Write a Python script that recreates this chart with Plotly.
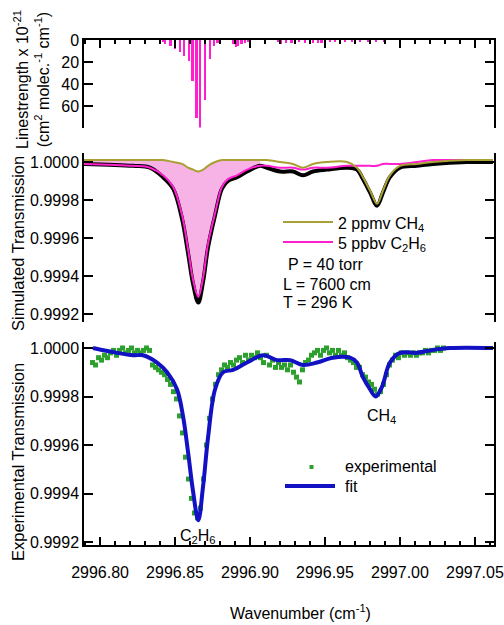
import plotly.graph_objects as go

W, H = 504, 625
FONT = "Liberation Sans, Arial, Helvetica, sans-serif"

# ---------------- data ----------------
# Top panel: line strengths (x 10^-21 cm^2 molec^-1 cm^-1)
stick_wn = [2996.8420, 2996.8433, 2996.8471, 2996.8500, 2996.8533, 2996.8562, 2996.8595,
            2996.8618, 2996.8645, 2996.8667, 2996.8700, 2996.8733, 2996.8762, 2996.8785,
            2996.8887, 2996.8907, 2996.8922, 2996.8945, 2996.8967, 2996.8987,
            2996.9187, 2996.9211, 2996.9240, 2996.9278, 2996.9327, 2996.9367, 2996.9420,
            2996.9453, 2996.9478, 2996.9533, 2996.9567, 2996.9633, 2996.9680, 2996.9733,
            2996.9787, 2996.9840, 2996.9893]
stick_s = [2, 4, 5, 8, 10.5, 14, 19,
           37, 70, 79, 54, 17, 5.5, 3,
           4, 6, 5, 4, 3, 2,
           2, 3.5, 2.5, 3, 2, 3, 3,
           2.5, 3, 2, 2, 1.5, 1.5, 1,
           1, 1, 1]

# Middle panel: simulated transmission
sim_wn = [2996.7887, 2996.8220, 2996.8333, 2996.8420, 2996.8487, 2996.8547, 2996.8587,
          2996.8620, 2996.8655, 2996.8687, 2996.8720, 2996.8767, 2996.8813, 2996.8853,
          2996.8913, 2996.8980, 2996.9067, 2996.9113, 2996.9200, 2996.9287, 2996.9353,
          2996.9420, 2996.9513, 2996.9647, 2996.9713, 2996.9753, 2996.9800, 2996.9847,
          2996.9887, 2996.9933, 2997.0000, 2997.0113, 2997.0220, 2997.0447, 2997.0620]
sim_total = [0.99999, 0.99998, 0.99997, 0.99992, 0.99986, 0.99970, 0.99952,
             0.99936, 0.99926, 0.99937, 0.99955, 0.99972, 0.99986, 0.99990,
             0.99992, 0.99995, 0.99998, 0.99997, 0.99995, 0.99995, 0.99993,
             0.99995, 0.99996, 0.99997, 0.99996, 0.99991, 0.99984, 0.99977,
             0.99984, 0.99992, 0.99997, 0.99998, 0.99999, 1.00000, 1.00000]
sim_c2h6 = [0.99999, 0.99998, 0.99997, 0.99993, 0.99987, 0.99972, 0.99954,
            0.99938, 0.99929, 0.99939, 0.99957, 0.99973, 0.99987, 0.99991,
            0.99993, 0.99996, 0.99998, 0.99998, 0.99997, 0.99997, 0.99996,
            0.99997, 0.99997, 0.99998, 0.99998, 0.99998, 0.99998, 0.99998,
            0.99999, 0.99999, 0.99999, 1.00000, 1.00001, 1.00001, 1.00001]
sim_ch4 = [1.00001, 1.00001, 1.00001, 1.00001, 1.00000, 0.99999, 0.99997,
           0.99996, 0.99995, 0.99996, 0.99998, 1.00000, 1.00001, 1.00001,
           1.00001, 1.00001, 1.00001, 1.00001, 1.00000, 0.99999, 0.99997,
           0.99999, 1.00000, 1.00000, 0.99997, 0.99992, 0.99985, 0.99978,
           0.99985, 0.99993, 0.99998, 0.99999, 1.00000, 1.00001, 1.00001]
fill_end = 17  # shaded C2H6 band covers the first points

# Bottom panel: experimental data and fit
exp_wn = [2996.795, 2996.797, 2996.799, 2996.801, 2996.803, 2996.805, 2996.807, 2996.809,
          2996.811, 2996.813, 2996.815, 2996.817, 2996.819, 2996.821, 2996.823, 2996.825,
          2996.827, 2996.829, 2996.831, 2996.833, 2996.835, 2996.837, 2996.839, 2996.841,
          2996.843, 2996.845, 2996.847, 2996.849, 2996.851, 2996.853, 2996.855, 2996.857,
          2996.859, 2996.861, 2996.863, 2996.865, 2996.867, 2996.869, 2996.871, 2996.873,
          2996.875, 2996.877, 2996.879, 2996.881, 2996.883, 2996.885, 2996.887, 2996.889,
          2996.891, 2996.893, 2996.895, 2996.897, 2996.899, 2996.901, 2996.903, 2996.905,
          2996.907, 2996.909, 2996.911, 2996.913, 2996.915, 2996.917, 2996.919, 2996.921,
          2996.923, 2996.925, 2996.927, 2996.929, 2996.931, 2996.933, 2996.935, 2996.937,
          2996.939, 2996.941, 2996.943, 2996.945, 2996.947, 2996.949, 2996.951, 2996.953,
          2996.955, 2996.957, 2996.959, 2996.961, 2996.963, 2996.965, 2996.967, 2996.969,
          2996.971, 2996.973, 2996.975, 2996.977, 2996.979, 2996.981, 2996.983, 2996.985,
          2996.987, 2996.989, 2996.991, 2996.993, 2996.995, 2996.997, 2996.999, 2997.001,
          2997.003, 2997.005, 2997.007, 2997.009, 2997.011, 2997.013, 2997.015, 2997.017,
          2997.019, 2997.021, 2997.023, 2997.025, 2997.027, 2997.029]
exp_t = [0.99994, 0.99993, 0.99996, 0.99995, 0.99997, 0.99996, 0.99998, 0.99999,
         0.99997, 0.99999, 1.00000, 0.99998, 0.99999, 1.00000, 0.99998, 0.99999,
         0.99998, 0.99999, 1.00000, 0.99999, 0.99993, 0.99992, 0.99991, 0.99990,
         0.99989, 0.99987, 0.99985, 0.99982, 0.99979, 0.99972, 0.99965, 0.99955,
         0.99946, 0.99938, 0.99932, 0.99930, 0.99934, 0.99946, 0.99960, 0.99971,
         0.99979, 0.99985, 0.99989, 0.99991, 0.99993, 0.99992, 0.99994, 0.99993,
         0.99995, 0.99996, 0.99994, 0.99997, 0.99995, 0.99997, 0.99996, 0.99998,
         0.99996, 0.99994, 0.99997, 0.99993, 0.99995, 0.99992, 0.99994, 0.99992,
         0.99993, 0.99991, 0.99993, 0.99990, 0.99988, 0.99986, 0.99991, 0.99994,
         0.99995, 0.99997, 0.99998, 0.99999, 0.99997, 0.99999, 1.00000, 0.99998,
         0.99999, 0.99997, 0.99999, 0.99997, 0.99998, 0.99996, 0.99995, 0.99994,
         0.99992, 0.99992, 0.99989, 0.99988, 0.99986, 0.99985, 0.99983, 0.99981,
         0.99982, 0.99985, 0.99989, 0.99993, 0.99995, 0.99997, 0.99996, 0.99998,
         0.99997, 0.99998, 0.99997, 0.99998, 0.99997, 0.99998, 0.99998, 0.99999,
         0.99998, 0.99999, 0.99999, 1.00000, 0.99999, 1.00000]

fit_wn = [2996.7953, 2996.8113, 2996.8220, 2996.8287, 2996.8380, 2996.8447, 2996.8513,
          2996.8553, 2996.8587, 2996.8620, 2996.8655, 2996.8687, 2996.8720, 2996.8767,
          2996.8820, 2996.8887, 2996.8980, 2996.9087, 2996.9180, 2996.9267, 2996.9353,
          2996.9447, 2996.9553, 2996.9667, 2996.9713, 2996.9753, 2996.9800, 2996.9838,
          2996.9880, 2996.9933, 2997.0000, 2997.0113, 2997.0200, 2997.0333, 2997.0620]
fit_t = [1.00000, 0.99998, 0.99997, 0.99997, 0.99994, 0.99990, 0.99983,
         0.99972, 0.99957, 0.99941, 0.99929, 0.99943, 0.99963, 0.99983,
         0.99990, 0.99991, 0.99994, 0.99997, 0.99995, 0.99995, 0.99993,
         0.99994, 0.99996, 0.99996, 0.99994, 0.99988, 0.99983, 0.99980,
         0.99984, 0.99994, 0.99998, 0.99998, 0.99999, 1.00000, 1.00000]

# ---------------- styles ----------------
MAGENTA = "#ff1fcf"
OLIVE = "#a8a032"
PINK = "rgba(247,178,230,1)"
GREEN = "#2ca02c"
BLUE = "#1212c4"

def px(x):
    return x / W

def py(y):
    return 1 - y / H

XDOM = [px(84), px(494)]
XR = [2996.7893, 2997.0627]

fig = go.Figure()

# top panel sticks
fig.add_trace(go.Bar(x=stick_wn, y=stick_s, width=0.0011, marker_color=MAGENTA,
                     marker_line_width=0, xaxis="x", yaxis="y", showlegend=False))

# middle panel
fig.add_trace(go.Scatter(x=sim_wn[:fill_end], y=sim_ch4[:fill_end], mode="lines",
                         line=dict(width=0, shape="spline"), xaxis="x2", yaxis="y2",
                         showlegend=False, hoverinfo="skip"))
fig.add_trace(go.Scatter(x=sim_wn[:fill_end], y=sim_c2h6[:fill_end], mode="lines",
                         line=dict(width=0, shape="spline"), fill="tonexty", fillcolor=PINK,
                         xaxis="x2", yaxis="y2", showlegend=False, hoverinfo="skip"))
fig.add_trace(go.Scatter(x=sim_wn, y=sim_total, mode="lines",
                         line=dict(color="black", width=4, shape="spline"),
                         xaxis="x2", yaxis="y2", showlegend=False))
fig.add_trace(go.Scatter(x=sim_wn, y=sim_c2h6, mode="lines",
                         line=dict(color=MAGENTA, width=2, shape="spline"),
                         xaxis="x2", yaxis="y2", showlegend=False))
fig.add_trace(go.Scatter(x=sim_wn, y=sim_ch4, mode="lines",
                         line=dict(color=OLIVE, width=2, shape="spline"),
                         xaxis="x2", yaxis="y2", showlegend=False))

# bottom panel
fig.add_trace(go.Scatter(x=exp_wn, y=exp_t, mode="markers",
                         marker=dict(color=GREEN, size=5, symbol="square", line_width=0),
                         xaxis="x3", yaxis="y3", showlegend=False))
fig.add_trace(go.Scatter(x=fit_wn, y=fit_t, mode="lines",
                         line=dict(color=BLUE, width=4, shape="spline"),
                         xaxis="x3", yaxis="y3", showlegend=False))

axis_common = dict(showline=True, linecolor="black", linewidth=1.5, ticks="inside",
                   tickcolor="black", tickwidth=1.5, showgrid=False, zeroline=False,
                   automargin=False,
                   tickfont=dict(size=16, family=FONT, color="black"))
minor = dict(ticks="inside", ticklen=4, tickcolor="black", tickwidth=1.5, dtick=0.01,
             tick0=2996.80, showgrid=False)

fig.update_layout(
    width=W, height=H, autosize=False,
    margin=dict(l=0, r=0, t=0, b=0),
    paper_bgcolor="white", plot_bgcolor="white",
    font=dict(family=FONT, size=16, color="black"),
    bargap=0,
    xaxis=dict(**axis_common, domain=XDOM, range=XR, anchor="y", side="top",
               showticklabels=False, ticklen=8, dtick=0.05, tick0=2996.80, minor=minor),
    yaxis=dict(**axis_common, domain=[py(127.5), py(40)], range=[79, 0], anchor="x",
               tickvals=[0, 20, 40, 60], ticklen=9, mirror="allticks"),
    xaxis2=dict(domain=XDOM, range=XR, anchor="y2", visible=False, automargin=False),
    yaxis2=dict(**axis_common, domain=[py(322), py(153)], range=[0.999158, 1.0000474],
                anchor="x2", dtick=0.0002, tick0=1.0, tickformat=".4f", ticklen=9,
                mirror="allticks"),
    xaxis3=dict(**axis_common, domain=XDOM, range=XR, anchor="y3", side="bottom",
                ticklen=8, dtick=0.05, tick0=2996.80, tickformat=".2f", minor=minor,
                ticklabelstandoff=12),
    yaxis3=dict(**axis_common, domain=[py(545), py(342)], range=[0.999188, 1.0000247],
                anchor="x3", dtick=0.0002, tick0=1.0, tickformat=".4f", ticklen=9,
                mirror="allticks"),
)

shapes = [
    dict(type="line", xref="paper", yref="paper", x0=px(283), x1=px(333), y0=py(222), y1=py(222),
         line=dict(color=OLIVE, width=2)),
    dict(type="line", xref="paper", yref="paper", x0=px(283), x1=px(333), y0=py(242), y1=py(242),
         line=dict(color=MAGENTA, width=2)),
    dict(type="rect", xref="paper", yref="paper", x0=px(309.5), x1=px(313.5), y0=py(465), y1=py(469),
         fillcolor=GREEN, line=dict(width=0)),
    dict(type="line", xref="paper", yref="paper", x0=px(285), x1=px(335), y0=py(486), y1=py(486),
         line=dict(color=BLUE, width=4)),
]
fig.update_layout(shapes=shapes)

def ann(text, x, y, xanchor="left", size=16, angle=0):
    return dict(text=text, x=px(x), y=py(y), xref="paper", yref="paper", showarrow=False,
                xanchor=xanchor, yanchor="middle", textangle=angle,
                font=dict(size=size, family=FONT, color="black"))

annotations = [
    ann("2 ppmv CH<sub>4</sub>", 336, 224),
    ann("5 ppbv C<sub>2</sub>H<sub>6</sub>", 336, 244),
    ann("P = 40 torr", 286, 265),
    ann("L = 7600 cm", 281, 284),
    ann("T = 296 K", 281, 302),
    ann("experimental", 343, 466),
    ann("fit", 343, 486),
    ann("CH<sub>4</sub>", 381, 416, xanchor="center"),
    ann("C<sub>2</sub>H<sub>6</sub>", 198, 536, xanchor="center"),
    ann("Wavenumber (cm<sup>-1</sup>)", 300, 612, xanchor="center"),
    ann("Linestrength x 10<sup>-21</sup><br>(cm<sup>2</sup> molec.<sup>-1</sup> cm<sup>-1</sup>)",
        31, 80, xanchor="center", angle=-90),
    ann("Simulated Transmission", 18, 244, xanchor="center", size=16.5, angle=-90),
    ann("Experimental Transmission", 18, 462, xanchor="center", size=16.5, angle=-90),
]
fig.update_layout(annotations=annotations)

# remove the default page margin so the 504x625 figure fills the window exactly
PAGE_FIX = ("document.body.style.margin='0';document.body.style.padding='0';"
            "document.documentElement.style.overflow='hidden';")
fig.write_html("out.html", post_script=PAGE_FIX, config={"displayModeBar": False})
